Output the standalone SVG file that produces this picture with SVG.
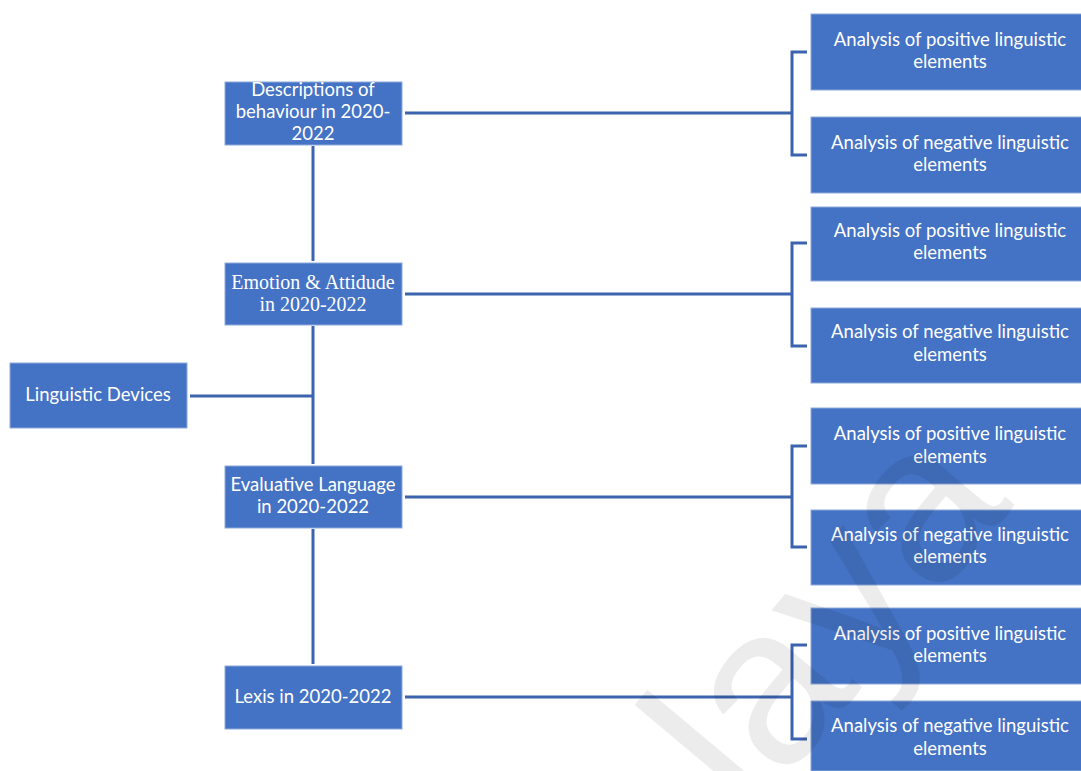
<svg xmlns="http://www.w3.org/2000/svg" width="1081" height="771" viewBox="0 0 1081 771">
<style>
.box{fill:#4472c4;stroke:#8eaadb;stroke-width:1}
.t{fill:#ffffff;font-family:Lato,"Open Sans","Liberation Sans",sans-serif;font-size:18.5px;text-anchor:middle;dominant-baseline:central}
.ts{fill:#ffffff;font-family:"Liberation Serif","Times New Roman",serif;font-size:20px;text-anchor:middle;dominant-baseline:central}
.c{fill:none;stroke:#3c63ad;stroke-width:3}
.wm{fill:#000000;opacity:0.07;font-family:"Liberation Sans",sans-serif;font-size:225px}
</style>
<rect width="1081" height="771" fill="#ffffff"/>
<g id="connectors">
<line class="c" x1="190" y1="396" x2="313" y2="396"/>
<line class="c" x1="313" y1="146" x2="313" y2="261"/>
<line class="c" x1="313" y1="326" x2="313" y2="464"/>
<line class="c" x1="313" y1="529" x2="313" y2="664"/>
<line class="c" x1="405" y1="113" x2="792" y2="113"/>
<line class="c" x1="405" y1="294" x2="792" y2="294"/>
<line class="c" x1="405" y1="497" x2="792" y2="497"/>
<line class="c" x1="405" y1="697" x2="792" y2="697"/>
<path class="c" d="M807 52 H792 V155 H807"/>
<path class="c" d="M807 243 H792 V346 H807"/>
<path class="c" d="M807 446 H792 V547 H807"/>
<path class="c" d="M807 645 H792 V739 H807"/>
</g>
<g id="root"><rect class="box" x="10" y="363" width="177" height="65"/><text class="t" x="98" y="394">Linguistic Devices</text></g>
<g id="n1"><rect class="box" x="225" y="82" width="177" height="63"/><text class="t" x="313" y="89">Descriptions of</text><text class="t" x="313" y="111">behaviour in 2020-</text><text class="t" x="313" y="133">2022</text></g>
<g id="n2"><rect class="box" x="225" y="263" width="177" height="62"/><text class="ts" x="313" y="282">Emotion &amp; Attidude</text><text class="ts" x="313" y="304">in 2020-2022</text></g>
<g id="n3"><rect class="box" x="225" y="466" width="177" height="62"/><text class="t" x="313" y="484">Evaluative Language</text><text class="t" x="313" y="506">in 2020-2022</text></g>
<g id="n4"><rect class="box" x="225" y="666" width="177" height="63"/><text class="t" x="313" y="696">Lexis in 2020-2022</text></g>
<g id="p1"><rect class="box" x="811" y="14" width="275" height="76"/><text class="t" x="950" y="39">Analysis of positive linguistic</text><text class="t" x="950" y="61">elements</text></g>
<g id="q1"><rect class="box" x="811" y="117" width="275" height="76"/><text class="t" x="950" y="142">Analysis of negative linguistic</text><text class="t" x="950" y="164">elements</text></g>
<g id="p2"><rect class="box" x="811" y="207" width="275" height="74"/><text class="t" x="950" y="230">Analysis of positive linguistic</text><text class="t" x="950" y="252">elements</text></g>
<g id="q2"><rect class="box" x="811" y="308" width="275" height="75"/><text class="t" x="950" y="331">Analysis of negative linguistic</text><text class="t" x="950" y="354">elements</text></g>
<g id="p3"><rect class="box" x="811" y="408" width="275" height="76"/><text class="t" x="950" y="433">Analysis of positive linguistic</text><text class="t" x="950" y="456">elements</text></g>
<g id="q3"><rect class="box" x="811" y="510" width="275" height="75"/><text class="t" x="950" y="534">Analysis of negative linguistic</text><text class="t" x="950" y="556">elements</text></g>
<g id="p4"><rect class="box" x="811" y="608" width="275" height="76"/><text class="t" x="950" y="633">Analysis of positive linguistic</text><text class="t" x="950" y="655">elements</text></g>
<g id="q4"><rect class="box" x="811" y="701" width="275" height="70"/><text class="t" x="950" y="725">Analysis of negative linguistic</text><text class="t" x="950" y="748">elements</text></g>
<text class="wm" transform="translate(1015,505) rotate(-50)" text-anchor="end">Malaya</text>
</svg>
